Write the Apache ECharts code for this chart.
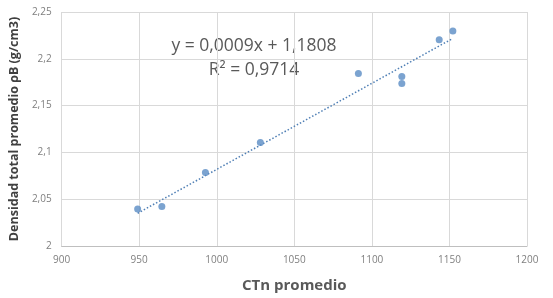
<!DOCTYPE html>
<html>
<head>
<meta charset="utf-8">
<script src="https://cdn.jsdelivr.net/npm/echarts@6/dist/echarts.min.js"></script>
<style>
html, body {margin: 0; padding: 0; background: #fff;}
#chart {width: 553px; height: 298px;}
</style>
</head>
<body>
<div id="chart"></div>
<script>
// CTn promedio vs densidad
var ctn = [949, 964.6, 992.7, 1028.1, 1091.3, 1119.3, 1119.3, 1143.4, 1152.2];
var densidad = [2.0394, 2.0421, 2.0785, 2.1106, 2.1844, 2.1810, 2.1736, 2.2204, 2.2298];
// extremos de la linea de tendencia
var trendX = [949, 1152.2];
var trendY = [2.035, 2.2218];
var ecuacion = ['y = 0,0009x + 1,1808', 'R² = 0,9714'];

var puntos = [];
for (var i in ctn) {
    puntos.push([ctn[i], densidad[i]]);
}
var tendencia = [];
for (var j in trendX) {
    tendencia.push([trendX[j], trendY[j]]);
}

var chart = echarts.init(document.getElementById('chart'));
var labelFont = "'Open Sans', 'Liberation Sans', sans-serif";
chart.setOption({
    animation: false,
    grid: {left: 55, right: 26, top: 12, bottom: 47},
    xAxis: {
        type: 'value',
        min: 900, max: 1200, interval: 50,
        name: 'CTn promedio',
        nameLocation: 'middle',
        nameGap: 32,
        nameTextStyle: {fontFamily: labelFont, fontWeight: 'bold', fontSize: 15, color: '#595959'},
        axisLine: {lineStyle: {color: '#bfbfbf'}},
        axisTick: {show: false},
        axisLabel: {
            color: '#7f7f7f', fontSize: 10, fontFamily: labelFont, margin: 9,
            formatter: function(v) { return String(v); }
        },
        splitLine: {show: true, lineStyle: {color: '#d9d9d9'}}
    },
    yAxis: {
        type: 'value',
        min: 2, max: 2.25, interval: 0.05,
        name: 'Densidad total promedio ρB (g/cm3)',
        nameLocation: 'middle',
        nameGap: 38,
        nameTextStyle: {fontFamily: labelFont, fontWeight: 'bold', fontSize: 12.5, color: '#404040'},
        axisLine: {show: false},
        axisTick: {show: false},
        axisLabel: {
            color: '#7f7f7f', fontSize: 10, fontFamily: labelFont, margin: 10,
            formatter: function(v) { return String(+v.toFixed(2)).replace('.', ','); }
        },
        splitLine: {show: true, lineStyle: {color: '#d9d9d9'}}
    },
    series: [{
        type: 'line',
        data: tendencia,
        symbol: 'none',
        lineStyle: {color: '#4f7fb5', width: 1.5, type: [1.5, 2]},
        z: 2
    }, {
        type: 'scatter',
        data: puntos,
        symbolSize: 7,
        itemStyle: {color: '#5a8cc4'},
        z: 3
    }],
    graphic: [{
        type: 'text',
        x: 254,
        y: 34,
        style: {
            text: ecuacion.join('\n'),
            align: 'center',
            fontFamily: labelFont,
            fontSize: 17.5,
            lineHeight: 24,
            fill: '#595959'
        }
    }]
});
</script>
</body>
</html>
